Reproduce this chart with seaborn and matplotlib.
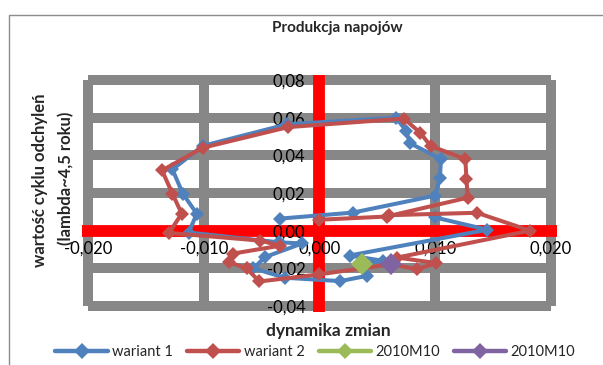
import copy
import matplotlib
matplotlib.use("Agg")
import matplotlib.pyplot as plt
import seaborn as sns
import pandas as pd
from matplotlib.patches import Rectangle

# Cycle trajectory: x = dynamics of change, y = cycle value (lambda ~ 4.5 years)
wariant1_x = [-0.0034, 0.0029, 0.0100, 0.0104, 0.0105, 0.0078, 0.0075, 0.0066,
              -0.0028, -0.0101, -0.0127, -0.0118, -0.0106, -0.0113,
              -0.0035, -0.0015, -0.0047, -0.0057, -0.0030, 0.0018, 0.0041,
              0.0036, 0.0055, 0.0026, 0.0145, 0.0100]
wariant1_y = [0.0064, 0.0096, 0.0186, 0.0280, 0.0380, 0.0465, 0.0530, 0.0600,
              0.0565, 0.0450, 0.0325, 0.0196, 0.0090, -0.0010,
              -0.0062, -0.0068, -0.0140, -0.0200, -0.0250, -0.0268, -0.0240,
              -0.0178, -0.0160, -0.0132, 0.0005, 0.0070]

wariant2_x = [0.0000, 0.0058, 0.0128, 0.0127, 0.0126, 0.0096, 0.0087, 0.0073,
              -0.0027, -0.0101, -0.0136, -0.0127, -0.0119, -0.0130,
              -0.0051, -0.0034, -0.0075, -0.0078, -0.0063, -0.0052, 0.0000,
              0.0062, 0.0084, 0.0101, 0.0067, 0.0182, 0.0136, 0.0060]
wariant2_y = [0.0058, 0.0075, 0.0175, 0.0276, 0.0380, 0.0450, 0.0520, 0.0595,
              0.0550, 0.0440, 0.0320, 0.0196, 0.0090, -0.0012,
              -0.0053, -0.0080, -0.0122, -0.0168, -0.0200, -0.0270, -0.0232,
              -0.0178, -0.0205, -0.0172, -0.0143, 0.0000, 0.0095, 0.0082]

# 2010M10 highlight for each variant
m10_w1_x, m10_w1_y = [0.0037], [-0.0177]
m10_w2_x, m10_w2_y = [0.0062], [-0.0177]

series_labels = ["wariant 1", "wariant 2", "2010M10", "2010M10"]
series_colors = ["#4F81BD", "#C0504D", "#9BBB59", "#8064A2"]

x_ticks = [-0.02, -0.01, 0.0, 0.01, 0.02]
y_ticks = [-0.04, -0.02, 0.0, 0.02, 0.04, 0.06, 0.08]
x_tick_labels = ["-0,020", "-0,010", "0,000", "0,010", "0,020"]
y_tick_labels = ["-0,04", "-0,02", "0,00", "0,02", "0,04", "0,06", "0,08"]

sns.set_style("white")
plt.rcParams["font.family"] = ["Lato", "DejaVu Sans"]

fig = plt.figure(figsize=(6.03, 3.65), dpi=100)
ax = fig.add_axes([0.1363, 0.1447, 0.787, 0.650])
ax.set_xlim(-0.0205, 0.0205)
ax.set_ylim(-0.0433, 0.0827)
ax.set_axisbelow(False)

# heavy grey grid
grid_kw = dict(color="#878787", linewidth=7.2, zorder=1, capstyle="butt")
ax.hlines(y_ticks, x_ticks[0], x_ticks[-1], **grid_kw)
ax.vlines([v for v in x_ticks if v != 0], y_ticks[0], y_ticks[-1], **grid_kw)

# red axes crossing at the origin
for s in ["top", "right"]:
    ax.spines[s].set_visible(False)
for s in ["left", "bottom"]:
    sp = ax.spines[s]
    sp.set_position(("data", 0))
    sp.set_color("#FF0000")
    sp.set_linewidth(8.5)
    sp.set_capstyle("butt")
    sp.set_zorder(2)

ax.set_xticks(x_ticks)
ax.set_xticklabels(x_tick_labels)
ax.set_yticks(y_ticks)
ax.set_yticklabels(y_tick_labels)
ax.tick_params(axis="both", length=0, labelsize=12, colors="black")
ax.tick_params(axis="y", pad=10)
ax.tick_params(axis="x", pad=7)
ax.xaxis.set_zorder(3)
ax.yaxis.set_zorder(3)

w1 = pd.DataFrame({"x": wariant1_x, "y": wariant1_y})
w2 = pd.DataFrame({"x": wariant2_x, "y": wariant2_y})
line_kw = dict(sort=False, estimator=None, lw=2.9, marker="D",
               markeredgewidth=0, ax=ax)
sns.lineplot(data=w1, x="x", y="y", color=series_colors[0], markersize=7.5,
             label=series_labels[0], zorder=4, **line_kw)
sns.lineplot(data=w2, x="x", y="y", color=series_colors[1], markersize=7.5,
             label=series_labels[1], zorder=4, **line_kw)
sns.lineplot(x=m10_w1_x, y=m10_w1_y, color=series_colors[2], markersize=11,
             label=series_labels[2], zorder=5, **line_kw)
sns.lineplot(x=m10_w2_x, y=m10_w2_y, color=series_colors[3], markersize=11,
             label=series_labels[3], zorder=5, **line_kw)
ax.set_xlabel("")
ax.set_ylabel("")

handles, labels = ax.get_legend_handles_labels()
if ax.get_legend() is not None:
    ax.get_legend().remove()
legend_handles = []
for h in handles:
    hc = copy.copy(h)
    hc.set_markersize(8)
    hc.set_linewidth(3.2)
    legend_handles.append(hc)
fig.legend(legend_handles, labels, ncol=4, loc="center", bbox_to_anchor=(0.523, 0.036),
           frameon=False, handlelength=3.6, columnspacing=0.95, handletextpad=0.3,
           fontsize=10.5, borderaxespad=0)

fig.text(337 / 603, 1 - 28 / 365, "Produkcja napojów", ha="center", va="center",
         fontweight="bold", fontsize=11)
fig.text(328 / 603, 1 - 331 / 365, "dynamika zmian", ha="center", va="center",
         fontweight="bold", fontsize=12.5)
fig.text(40 / 603, 1 - 180 / 365, "wartość cyklu odchyleń", ha="center", va="center",
         rotation=90, fontweight="bold", fontsize=12)
fig.text(66 / 603, 1 - 178 / 365, "(lambda~4,5 roku)", ha="center", va="center",
         rotation=90, fontweight="bold", fontsize=12)

# chart area border
fig.add_artist(Rectangle((8.5 / 603, -0.05), 1.0, (365 - 14.5) / 365 + 0.05,
                         transform=fig.transFigure, fill=False,
                         edgecolor="#8c8c8c", lw=1.0))

fig.savefig("out.png", dpi=100)
